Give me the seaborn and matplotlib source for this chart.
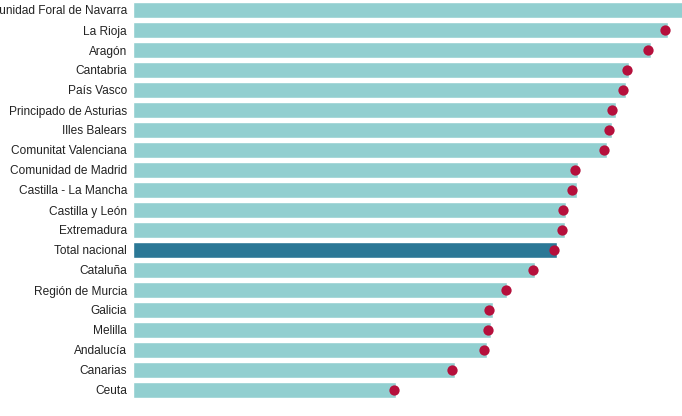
import matplotlib
matplotlib.use("Agg")
import matplotlib.pyplot as plt
import seaborn as sns
import pandas as pd

regiones = ["Comunidad Foral de Navarra", "La Rioja", "Aragón", "Cantabria", "País Vasco",
            "Principado de Asturias", "Illes Balears", "Comunitat Valenciana",
            "Comunidad de Madrid", "Castilla - La Mancha", "Castilla y León", "Extremadura",
            "Total nacional", "Cataluña", "Región de Murcia", "Galicia", "Melilla",
            "Andalucía", "Canarias", "Ceuta"]
barras = [112.0, 107.0, 103.6, 99.2, 98.6, 96.6, 95.8, 94.8, 89.0, 88.8, 86.6, 86.4,
          84.8, 80.4, 74.8, 72.0, 71.6, 70.8, 64.4, 52.6]
puntos = [111.5, 106.4, 103.0, 98.8, 98.0, 95.8, 95.2, 94.2, 88.4, 87.8, 86.0, 85.8,
          84.2, 80.0, 74.6, 71.2, 71.0, 70.2, 63.8, 52.2]

df = pd.DataFrame({"region": regiones, "barra": barras, "punto": puntos})
colores = {r: ("#2b7896" if r == "Total nacional" else "#92cfd0") for r in regiones}

sns.set_style("white")
plt.rcParams["font.family"] = ["Liberation Sans", "DejaVu Sans"]

fig = plt.figure(figsize=(6.82, 4.16), dpi=100)
ax = fig.add_axes([132.5 / 682, 0, 1 - 132.5 / 682, 1])

sns.barplot(data=df, x="barra", y="region", hue="region", palette=colores,
            legend=False, width=0.76, saturation=1, ax=ax)
sns.stripplot(data=df, x="punto", y="region", jitter=False, color="#b5103c",
              size=7.4, linewidth=0, ax=ax, zorder=3)

ax.set_xlim(0, 109.8)
ax.set_ylim(20.3, -0.5)
ax.set_xlabel("")
ax.set_ylabel("")
ax.set_xticks([])
ax.tick_params(axis="y", length=0, pad=4, labelsize=8.6, labelcolor="#222222")
sns.despine(ax=ax, left=True, bottom=True)

fig.savefig("out.png", dpi=100)
